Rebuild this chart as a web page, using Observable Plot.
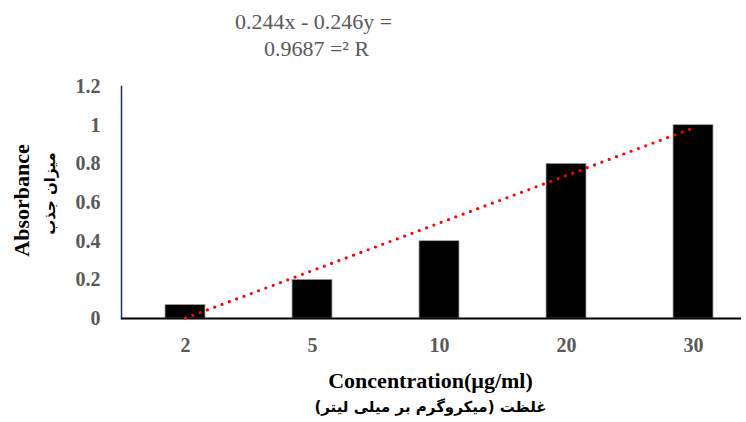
<!DOCTYPE html>
<html>
<head>
<meta charset="utf-8">
<script src="https://cdn.jsdelivr.net/npm/d3@7"></script>
<script src="https://cdn.jsdelivr.net/npm/@observablehq/plot@0.6"></script>
<style>
  html, body { margin: 0; padding: 0; background: #fff; }
  svg { display: block; }
</style>
</head>
<body>
<div id="chart"></div>
<script>
// ---- data ----
const concentrations = ["2", "5", "10", "20", "30"];
const absorbance = [0.07, 0.2, 0.4, 0.8, 1.0];
// trendline as printed on the chart: y = 0.246x - 0.244 (x = category index 1..5)
const trendSlope = 0.246;
const trendIntercept = -0.244;
const yTicks = [0, 0.2, 0.4, 0.6, 0.8, 1, 1.2];
const yTickLabels = ["0", "0.2", "0.4", "0.6", "0.8", "1", "1.2"];
const equationLines = ["0.244x - 0.246y =", "0.9687 =\u00B2 R"];
const yTitleEn = "Absorbance";
const yTitleFa = "میزان جذب";
const xTitleEn = "Concentration(µg/ml)";
const xTitleFa = "غلظت (میکروگرم بر میلی لیتر)";

const bars = concentrations.map((c, i) => ({c, v: absorbance[i]}));
const trend = concentrations.map((c, i) => ({c, v: trendSlope * (i + 1) + trendIntercept}));

const W = 746, H = 422, mL = 121, mR = 5, mT = 86, mB = 104;
const serif = "'Liberation Serif', 'Times New Roman', serif";
const fa = "'DejaVu Sans', sans-serif";
const grey = "#595959";
const RLM = "\u200F";

const chart = Plot.plot({
  width: W,
  height: H,
  marginLeft: mL,
  marginRight: mR,
  marginTop: mT,
  marginBottom: mB,
  style: {background: "#fff", overflow: "visible"},
  x: {type: "band", domain: concentrations, range: [121, 756.5], paddingInner: 0.685, paddingOuter: 0.3425, align: 0.5},
  y: {domain: [0, 1.2]},
  marks: [
    Plot.frame({anchor: "left", stroke: "#1f2a66", strokeWidth: 1.5}),
    Plot.barY(bars, {x: "c", y: "v", fill: "#000", stroke: "#a6a6a6", strokeWidth: 0.8}),
    Plot.ruleY([0], {stroke: "#000", strokeWidth: 2.2}),
    Plot.line(trend, {x: "c", y: "v", stroke: "#ff0000", strokeWidth: 3.2, strokeDasharray: "0 7.8", strokeLinecap: "round"}),
    Plot.axisY({ticks: yTicks, tickFormat: (d) => yTickLabels[yTicks.indexOf(d)], tickSize: 0, tickPadding: 21,
      fontSize: 20, fontWeight: "bold", fontFamily: serif, fill: grey, label: null}),
    Plot.axisX({tickSize: 0, tickPadding: 19, fontSize: 20, fontWeight: "bold", fontFamily: serif, fill: grey, label: null}),
    // equation
    Plot.text([equationLines[0]], {text: (d) => d, frameAnchor: "top", textAnchor: "middle", dx: -118, dy: -58, lineAnchor: "bottom",
      fontSize: 22, fontFamily: serif, fill: grey}),
    Plot.text([equationLines[1]], {text: (d) => d, frameAnchor: "top", textAnchor: "middle", dx: -115, dy: -31, lineAnchor: "bottom",
      fontSize: 22, fontFamily: serif, fill: grey}),
    // y titles
    Plot.text([yTitleEn], {text: (d) => d, frameAnchor: "left", textAnchor: "middle", dx: -100, dy: -2, rotate: -90, lineAnchor: "middle",
      fontSize: 22, fontWeight: "bold", fontFamily: serif, fill: "#000"}),
    Plot.text([yTitleFa], {text: (d) => RLM + d + RLM, frameAnchor: "left", textAnchor: "middle", dx: -71, dy: -9, rotate: -90, lineAnchor: "middle",
      fontSize: 15, fontWeight: "bold", fontFamily: fa, fill: "#000"}),
    // x titles
    Plot.text([xTitleEn], {text: (d) => d, frameAnchor: "bottom", textAnchor: "middle", dx: -1, dy: 69, lineAnchor: "bottom",
      fontSize: 22, fontWeight: "bold", fontFamily: serif, fill: "#000"}),
    Plot.text([xTitleFa], {text: (d) => RLM + d + RLM, frameAnchor: "bottom", textAnchor: "middle", dx: -1, dy: 93, lineAnchor: "bottom",
      fontSize: 15, fontWeight: "bold", fontFamily: fa, fill: "#000"})
  ]
});
document.getElementById("chart").appendChild(chart);
</script>
</body>
</html>
